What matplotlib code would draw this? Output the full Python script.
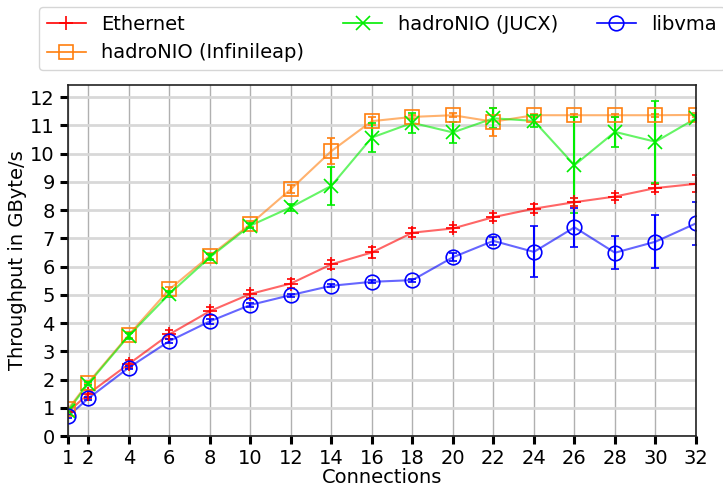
import matplotlib
matplotlib.use("Agg")
import matplotlib.pyplot as plt
from matplotlib.lines import Line2D

connections = [1, 2, 4, 6, 8, 10, 12, 14, 16, 18, 20, 22, 24, 26, 28, 30, 32]

eth_mean = [0.85, 1.49, 2.55, 3.6, 4.42, 5.03, 5.4, 6.08, 6.5, 7.2, 7.35, 7.75, 8.05, 8.28, 8.48, 8.78, 8.93]
eth_err = [0.1, 0.15, 0.15, 0.15, 0.15, 0.15, 0.15, 0.15, 0.2, 0.15, 0.12, 0.15, 0.15, 0.15, 0.12, 0.15, 0.3]

inf_mean = [0.95, 1.89, 3.58, 5.19, 6.38, 7.5, 8.74, 10.09, 11.15, 11.3, 11.36, 11.13, 11.36, 11.36, 11.36, 11.36, 11.37]
inf_err = [0.05, 0.05, 0.1, 0.1, 0.1, 0.1, 0.15, 0.45, 0.15, 0.08, 0.08, 0.5, 0.06, 0.06, 0.06, 0.06, 0.06]

jucx_mean = [0.9, 1.85, 3.55, 5.03, 6.33, 7.45, 8.1, 8.86, 10.57, 11.09, 10.75, 11.25, 11.16, 9.59, 10.77, 10.42, 11.25]
jucx_err = [0.05, 0.05, 0.1, 0.1, 0.1, 0.1, 0.12, 0.67, 0.5, 0.35, 0.37, 0.35, 0.2, 1.7, 0.52, 1.45, 0.1]

vma_mean = [0.7, 1.33, 2.42, 3.36, 4.06, 4.64, 4.99, 5.32, 5.46, 5.52, 6.33, 6.91, 6.52, 7.39, 6.49, 6.88, 7.53]
vma_err = [0.05, 0.05, 0.05, 0.08, 0.1, 0.08, 0.05, 0.05, 0.05, 0.05, 0.15, 0.15, 0.9, 0.69, 0.58, 0.94, 0.75]

labels = ["Ethernet", "hadroNIO (Infinileap)", "hadroNIO (JUCX)", "libvma"]
series = [(eth_mean, eth_err), (inf_mean, inf_err), (jucx_mean, jucx_err), (vma_mean, vma_err)]
colors = ["#ff0000", "#ff7f0e", "#00ee00", "#0000ff"]
markers = ["+", "s", "x", "o"]
msizes = [10, 10.5, 10.5, 10.5]

fig = plt.figure(figsize=(7.23, 4.88), dpi=100)
ax = fig.add_axes([68/723, 1-436/488, 628/723, (436-85)/488])

for (m, e), lab, c, mk, ms in zip(series, labels, colors, markers, msizes):
    ax.plot(connections, m, color=c, alpha=0.6, lw=1.5)
    ax.errorbar(connections, m, yerr=e, color=c, marker=mk, markersize=ms,
                mfc="none", mec=c, mew=1.2, ls="none", capsize=3, elinewidth=1.5, capthick=1.5,
                label=lab)

leg_handles = [Line2D([], [], color=c, marker=mk, markersize=ms, mfc="none", mew=1.2, lw=1.2)
               for c, mk, ms in zip(colors, markers, msizes)]

ax.set_xlim(1, 32)
ax.set_ylim(0, 12.43)
ax.set_xticks(connections)
ax.set_yticks(range(0, 13))
ax.tick_params(axis="both", labelsize=14, length=6, width=2.2, color="black")
ax.xaxis.grid(True, color="#b0b0b0", lw=1.0)
ax.yaxis.grid(True, color="#d8d8d8", lw=2.0)
ax.set_axisbelow(True)
for s in ax.spines.values():
    s.set_color("#222222")
    s.set_linewidth(1.2)
ax.set_xlabel("Connections", fontsize=14, labelpad=0)
ax.set_ylabel("Throughput in GByte/s", fontsize=14, labelpad=2)

ax.legend(leg_handles, labels, loc="lower center", bbox_to_anchor=(0.5, 1.0145), ncol=3,
          fontsize=14, frameon=True, edgecolor="#cccccc", handlelength=2.0, columnspacing=2.0)

fig.savefig("out.png", dpi=100)
